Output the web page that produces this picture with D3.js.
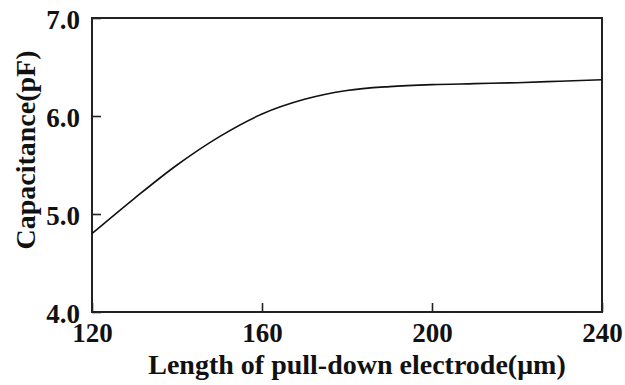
<!DOCTYPE html>
<html>
<head>
<meta charset="utf-8">
<script src="https://cdn.jsdelivr.net/npm/d3@7"></script>
<style>
  html, body { margin: 0; padding: 0; background: #fff; }
  svg { display: block; }
  text { font-family: "Liberation Serif", "Times New Roman", serif; font-weight: bold; fill: #111; }
</style>
</head>
<body>
<svg id="chart" width="625" height="385"></svg>
<script>
// Electrode length (µm) and the resulting capacitance (pF)
const lengths     = [120, 130, 140, 150, 160, 170, 180, 190, 200, 210, 220, 230, 240];
const capacitance = [4.80, 5.16, 5.50, 5.79, 6.02, 6.17, 6.26, 6.30, 6.32, 6.33, 6.34, 6.355, 6.37];

const xTicks = [120, 160, 200, 240];
const yTicks = [4.0, 5.0, 6.0, 7.0];

const xTitle = "Length of pull-down electrode(\u03bcm)";
const yTitle = "Capacitance(pF)";

const svg = d3.select("#chart");
const plot = { left: 92, right: 602, top: 18, bottom: 312 };

const x = d3.scaleLinear().domain([120, 240]).range([plot.left, plot.right]);
const y = d3.scaleLinear().domain([4.0, 7.0]).range([plot.bottom, plot.top]);

// Frame around the plotting area
svg.append("rect")
  .attr("x", plot.left).attr("y", plot.top)
  .attr("width", plot.right - plot.left).attr("height", plot.bottom - plot.top)
  .attr("fill", "none").attr("stroke", "#222").attr("stroke-width", 2);

// Bottom axis: inward ticks
const xAxis = svg.append("g")
  .attr("transform", `translate(0,${plot.bottom})`)
  .call(d3.axisBottom(x).tickValues(xTicks).tickSize(-9).tickPadding(0).tickFormat(d3.format("d")));
xAxis.select(".domain").remove();
xAxis.selectAll(".tick line").attr("stroke", "#222").attr("stroke-width", 1.6);
xAxis.selectAll(".tick text")
  .attr("y", 30).attr("dy", 0)
  .style("font-size", "27px");

// Left axis: inward ticks
const yAxis = svg.append("g")
  .attr("transform", `translate(${plot.left},0)`)
  .call(d3.axisLeft(y).tickValues(yTicks).tickSize(-9).tickPadding(0).tickFormat(d3.format(".1f")));
yAxis.select(".domain").remove();
yAxis.selectAll(".tick line").attr("stroke", "#222").attr("stroke-width", 1.6);
yAxis.selectAll(".tick text")
  .attr("x", -12).attr("dy", "0.38em")
  .style("font-size", "27px");

// Capacitance curve
const line = d3.line()
  .x((d, i) => x(lengths[i]))
  .y(d => y(d))
  .curve(d3.curveMonotoneX);

svg.append("path")
  .datum(capacitance)
  .attr("d", line)
  .attr("fill", "none")
  .attr("stroke", "#111")
  .attr("stroke-width", 1.6);

// Axis titles
svg.append("text")
  .attr("x", 357)
  .attr("y", 374)
  .attr("text-anchor", "middle")
  .style("font-size", "28px")
  .text(xTitle);

svg.append("text")
  .attr("transform", "translate(35,150) rotate(-90)")
  .attr("text-anchor", "middle")
  .style("font-size", "28px")
  .text(yTitle);
</script>
</body>
</html>
